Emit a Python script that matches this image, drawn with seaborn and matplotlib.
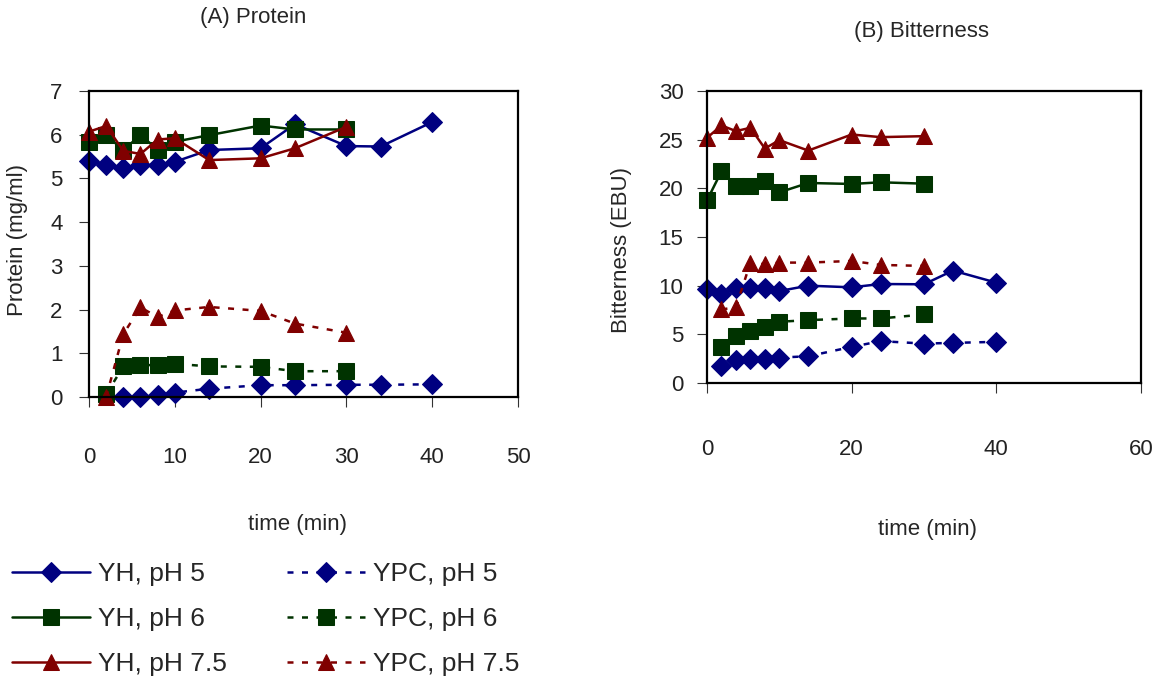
import matplotlib
matplotlib.use("Agg")
import matplotlib.pyplot as plt
import seaborn as sns

# time points (min)
time_yh_long = [0, 2, 4, 6, 8, 10, 14, 20, 24, 30, 34, 40]
time_yh_short = [0, 2, 4, 6, 8, 10, 14, 20, 24, 30]
time_ypc_long = [2, 4, 6, 8, 10, 14, 20, 24, 30, 34, 40]
time_ypc_short = [2, 4, 6, 8, 10, 14, 20, 24, 30]

# (A) protein, mg/ml
prot_yh5 = [5.40, 5.31, 5.23, 5.31, 5.31, 5.38, 5.65, 5.69, 6.24, 5.74, 5.73, 6.29]
prot_yh6 = [5.84, 5.99, 5.65, 5.99, 5.66, 5.84, 5.99, 6.21, 6.12, 6.12]
prot_yh75 = [6.07, 6.20, 5.63, 5.56, 5.89, 5.92, 5.42, 5.46, 5.69, 6.18]
prot_ypc5 = [0.0, 0.0, 0.0, 0.05, 0.10, 0.19, 0.27, 0.27, 0.28, 0.28, 0.29]
prot_ypc6 = [0.06, 0.70, 0.73, 0.73, 0.76, 0.70, 0.69, 0.59, 0.59]
prot_ypc75 = [0.0, 1.44, 2.05, 1.83, 1.98, 2.06, 1.97, 1.68, 1.47]

# (B) bitterness, EBU
bit_yh5 = [9.62, 9.14, 9.73, 9.73, 9.73, 9.45, 10.0, 9.83, 10.17, 10.14, 11.55, 10.31]
bit_yh6 = [18.76, 21.75, 20.27, 20.20, 20.72, 19.59, 20.55, 20.45, 20.62, 20.48]
bit_yh75 = [25.19, 26.46, 25.88, 26.22, 24.09, 24.95, 23.88, 25.53, 25.26, 25.36]
bit_ypc5 = [1.72, 2.41, 2.51, 2.51, 2.61, 2.75, 3.71, 4.30, 4.05, 4.12, 4.23]
bit_ypc6 = [3.71, 4.81, 5.36, 5.77, 6.29, 6.46, 6.63, 6.63, 7.04]
bit_ypc75 = [7.56, 7.77, 12.37, 12.20, 12.37, 12.37, 12.54, 12.13, 12.03]

labels = ["YH, pH 5", "YH, pH 6", "YH, pH 7.5", "YPC, pH 5", "YPC, pH 6", "YPC, pH 7.5"]

blue = "#000080"
green = "#003300"
red = "#800000"
dash = (0, (2.4, 3.4))

sns.set_style("white")
plt.rcParams["font.family"] = ["Liberation Sans", "DejaVu Sans"]

fig = plt.figure(figsize=(11.62, 6.84), dpi=100)
ax_a = fig.add_axes([89 / 1162, 1 - 397 / 684, 429 / 1162, 306 / 684])
ax_b = fig.add_axes([707 / 1162, 1 - 383 / 684, 434 / 1162, 292 / 684])


def draw(ax, series):
    for (x, y, color, marker, ms, ls) in series:
        sns.lineplot(x=x, y=y, ax=ax, color=color, marker=marker, markersize=ms,
                     markeredgecolor=color, linewidth=1.8, linestyle=ls,
                     estimator=None, legend=False)


series_a = [
    (time_yh_long, prot_yh5, blue, "D", 10, "-"),
    (time_yh_short, prot_yh6, green, "s", 11, "-"),
    (time_yh_short, prot_yh75, red, "^", 12, "-"),
    (time_ypc_long[1:], prot_ypc5[1:], blue, "D", 10, dash),
    (time_ypc_short, prot_ypc6, green, "s", 11, dash),
    (time_ypc_short, prot_ypc75, red, "^", 12, dash),
]
series_b = [
    (time_yh_long, bit_yh5, blue, "D", 10, "-"),
    (time_yh_short, bit_yh6, green, "s", 11, "-"),
    (time_yh_short, bit_yh75, red, "^", 12, "-"),
    (time_ypc_long, bit_ypc5, blue, "D", 10, dash),
    (time_ypc_short, bit_ypc6, green, "s", 11, dash),
    (time_ypc_short, bit_ypc75, red, "^", 12, dash),
]
draw(ax_a, series_a)
draw(ax_b, series_b)

ax_a.set_xlim(0, 50)
ax_a.set_ylim(0, 7)
ax_a.set_xticks([0, 10, 20, 30, 40, 50])
ax_a.set_yticks(range(0, 8))
ax_b.set_xlim(0, 60)
ax_b.set_ylim(0, 30)
ax_b.set_xticks([0, 20, 40, 60])
ax_b.set_yticks(range(0, 31, 5))

for ax in (ax_a, ax_b):
    for sp in ax.spines.values():
        sp.set_visible(True)
        sp.set_color("black")
        sp.set_linewidth(1.6)
    ax.tick_params(axis="both", direction="out", length=7, width=0.8,
                   color="#333333", labelsize=16, labelcolor="#222222",
                   bottom=True, left=True, top=False, right=False)
    for line in ax.get_lines():
        line.set_clip_on(False)

ax_a.tick_params(axis="x", pad=29)
ax_a.tick_params(axis="y", pad=12)
ax_b.tick_params(axis="x", pad=33)
ax_b.tick_params(axis="y", pad=10)

ax_a.set_xlabel("time (min)", fontsize=16)
ax_a.xaxis.set_label_coords((298 - 89) / 429, (397 - 514) / 306)
ax_a.set_ylabel("Protein (mg/ml)", fontsize=16, va="center")
ax_a.yaxis.set_label_coords((18 - 89) / 429, (397 - 240) / 306)

ax_b.set_xlabel("time (min)", fontsize=16)
ax_b.xaxis.set_label_coords((928 - 707) / 434, (383 - 519) / 292)
ax_b.set_ylabel("Bitterness (EBU)", fontsize=16, va="center")
ax_b.yaxis.set_label_coords((622 - 707) / 434, (383 - 250) / 292)

fig.text(253 / 1162, 1 - 18 / 684, "(A) Protein", fontsize=16, ha="center", va="center")
fig.text(921 / 1162, 1 - 32 / 684, "(B) Bitterness", fontsize=16, ha="center", va="center")

handles = ax_a.get_lines()[:6]
fig.legend(handles, labels, ncol=2, loc="upper left",
           bbox_to_anchor=(12 / 1162, 1 - 562 / 684), frameon=False,
           fontsize=19, handlelength=2.95, handletextpad=0.3,
           labelspacing=0.8, columnspacing=2.3, borderpad=0, borderaxespad=0)

fig.savefig("out.png", dpi=100)
